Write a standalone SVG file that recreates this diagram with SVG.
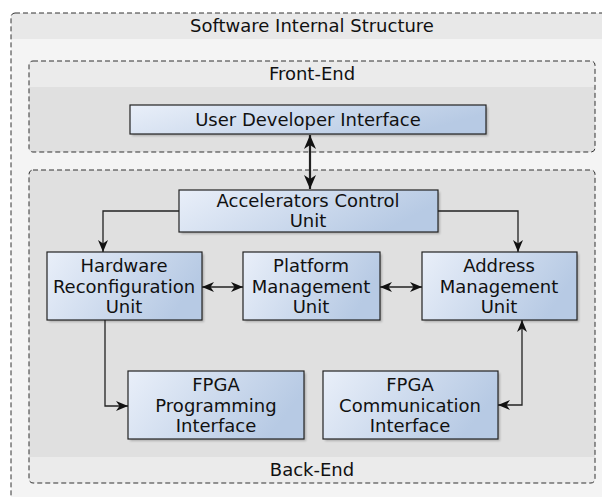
<svg xmlns="http://www.w3.org/2000/svg" width="602" height="497" viewBox="0 0 602 497">
  <style>
    .lbl { font-family: "DejaVu Sans", sans-serif; font-size: 18px; fill: #111; text-anchor: middle; }
    .cont { stroke: #333; stroke-width: 1; stroke-dasharray: 5 3; fill: none; }
    .node rect.box { fill: url(#nodeFill); stroke: #222; stroke-width: 1.2; }
    .node rect.shadow { fill: #000; opacity: 0.22; filter: url(#soft); }
    .link { fill: none; stroke: #222; stroke-width: 1.3; }
    .link.thick { stroke-width: 2.2; }
  </style>
  <defs>
    <linearGradient id="nodeFill" x1="0" y1="0" x2="1" y2="0.3">
      <stop offset="0" stop-color="#e9eff9"/>
      <stop offset="1" stop-color="#b7cae4"/>
    </linearGradient>
    <filter id="soft" x="-10%" y="-10%" width="120%" height="130%">
      <feGaussianBlur stdDeviation="1.2"/>
    </filter>
    <marker id="arr" markerUnits="userSpaceOnUse" markerWidth="13" markerHeight="11" refX="12" refY="5.5" orient="auto-start-reverse">
      <path d="M0,0.5 L12,5.5 L0,10.5 L3.5,5.5 z" fill="#111"/>
    </marker>
    <marker id="arrBig" markerUnits="userSpaceOnUse" markerWidth="15" markerHeight="13" refX="14" refY="6.5" orient="auto-start-reverse">
      <path d="M0,0.5 L14,6.5 L0,12.5 L4,6.5 z" fill="#111"/>
    </marker>
  </defs>

  <rect width="602" height="497" fill="#ffffff"/>

  <!-- Outer container -->
  <g id="software-internal-structure">
    <rect x="11" y="13" width="620" height="510" rx="4" fill="#f4f4f4"/>
    <path d="M11,39 V17 Q11,13 15,13 H631 V39 Z" fill="#e8e8e8"/>
    <rect x="11" y="13" width="620" height="510" rx="4" class="cont"/>
    <text class="lbl" x="312" y="32">Software Internal Structure</text>
  </g>

  <!-- Front-End container -->
  <g id="front-end">
    <rect x="29" y="61" width="566" height="91" rx="4" fill="#e0e0e0"/>
    <path d="M29,87 V65 Q29,61 33,61 H591 Q595,61 595,65 V87 Z" fill="#ebebeb"/>
    <rect x="29" y="61" width="566" height="91" rx="4" class="cont"/>
    <text class="lbl" x="312" y="80">Front-End</text>
  </g>

  <!-- Back-End container -->
  <g id="back-end">
    <rect x="29" y="170" width="566" height="313" rx="4" fill="#e0e0e0"/>
    <path d="M29,457 V479 Q29,483 33,483 H591 Q595,483 595,479 V457 Z" fill="#ebebeb"/>
    <rect x="29" y="170" width="566" height="313" rx="4" class="cont"/>
    <text class="lbl" x="312" y="476">Back-End</text>
  </g>

  <!-- Nodes -->
  <g id="user-developer-interface" class="node">
    <rect class="shadow" x="132" y="107" width="356" height="29"/>
    <rect class="box" x="130" y="105" width="356" height="29"/>
    <text class="lbl" x="308" y="126">User Developer Interface</text>
  </g>

  <g id="accelerators-control-unit" class="node">
    <rect class="shadow" x="181" y="192" width="259" height="42"/>
    <rect class="box" x="179" y="190" width="259" height="42"/>
    <text class="lbl" x="308" y="207">Accelerators Control</text>
    <text class="lbl" x="308" y="227">Unit</text>
  </g>

  <g id="hardware-reconfiguration-unit" class="node">
    <rect class="shadow" x="49" y="254" width="155" height="68"/>
    <rect class="box" x="47" y="252" width="155" height="68"/>
    <text class="lbl" x="124" y="272">Hardware</text>
    <text class="lbl" x="124" y="293">Reconfiguration</text>
    <text class="lbl" x="124" y="313">Unit</text>
  </g>

  <g id="platform-management-unit" class="node">
    <rect class="shadow" x="245" y="254" width="137" height="68"/>
    <rect class="box" x="243" y="252" width="137" height="68"/>
    <text class="lbl" x="311" y="272">Platform</text>
    <text class="lbl" x="311" y="293">Management</text>
    <text class="lbl" x="311" y="313">Unit</text>
  </g>

  <g id="address-management-unit" class="node">
    <rect class="shadow" x="424" y="254" width="155" height="68"/>
    <rect class="box" x="422" y="252" width="155" height="68"/>
    <text class="lbl" x="499" y="272">Address</text>
    <text class="lbl" x="499" y="293">Management</text>
    <text class="lbl" x="499" y="313">Unit</text>
  </g>

  <g id="fpga-programming-interface" class="node">
    <rect class="shadow" x="130" y="373" width="176" height="68"/>
    <rect class="box" x="128" y="371" width="176" height="68"/>
    <text class="lbl" x="216" y="391">FPGA</text>
    <text class="lbl" x="216" y="412">Programming</text>
    <text class="lbl" x="216" y="432">Interface</text>
  </g>

  <g id="fpga-communication-interface" class="node">
    <rect class="shadow" x="325" y="373" width="175" height="68"/>
    <rect class="box" x="323" y="371" width="175" height="68"/>
    <text class="lbl" x="410" y="391">FPGA</text>
    <text class="lbl" x="410" y="412">Communication</text>
    <text class="lbl" x="410" y="432">Interface</text>
  </g>

  <!-- Connectors -->
  <g id="connectors">
    <path class="link thick" d="M310,135 V189" marker-start="url(#arrBig)" marker-end="url(#arrBig)"/>
    <path class="link" d="M179,211 H103 V252" marker-end="url(#arr)"/>
    <path class="link" d="M438,211 H518 V252" marker-end="url(#arr)"/>
    <path class="link" d="M202,287 H243" marker-start="url(#arr)" marker-end="url(#arr)"/>
    <path class="link" d="M380,287 H422" marker-start="url(#arr)" marker-end="url(#arr)"/>
    <path class="link" d="M105,320 V406 H128" marker-end="url(#arr)"/>
    <path class="link" d="M498,405 H522 V320" marker-start="url(#arr)" marker-end="url(#arr)"/>
  </g>
</svg>
